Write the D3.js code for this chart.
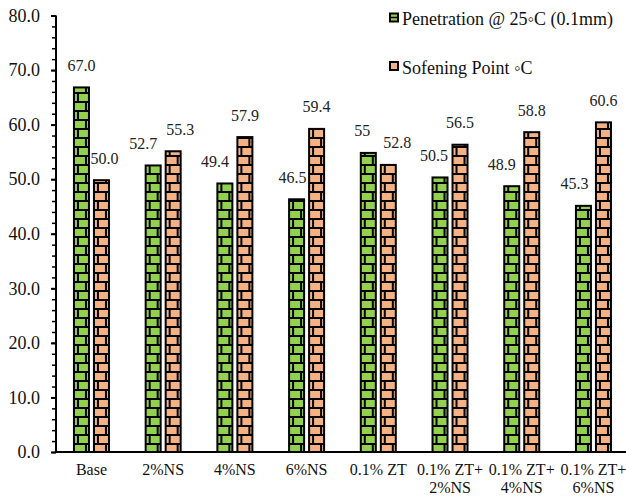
<!DOCTYPE html>
<html>
<head>
<meta charset="utf-8">
<script src="https://cdn.jsdelivr.net/npm/d3@7"></script>
<style>
  html, body { margin: 0; padding: 0; background: #fff; }
  svg { display: block; }
  svg text { font-family: "Liberation Serif", "Times New Roman", serif; }
</style>
</head>
<body>
<svg id="chart" width="626" height="499"></svg>
<script>
// Binder test results per blend
const categories = ["Base", "2%NS", "4%NS", "6%NS", "0.1% ZT", "0.1% ZT+ 2%NS", "0.1% ZT+ 4%NS", "0.1% ZT+ 6%NS"];
const penetration = [67.0, 52.7, 49.4, 46.5, 55, 50.5, 48.9, 45.3];
const softening = [50.0, 55.3, 57.9, 59.4, 52.8, 56.5, 58.8, 60.6];
const penetrationLabels = ["67.0", "52.7", "49.4", "46.5", "55", "50.5", "48.9", "45.3"];
const softeningLabels = ["50.0", "55.3", "57.9", "59.4", "52.8", "56.5", "58.8", "60.6"];
const seriesNames = ["Penetration @ 25\u25E6C (0.1mm)", "Sofening Point \u25E6C"];
const yTicks = [0, 10, 20, 30, 40, 50, 60, 70, 80];

// Hand-placed value labels: horizontal nudges (px) per bar
const penLabelNudge = [0, -10, -10, -4, -6, -6, -10, -9];
const softLabelNudge = [3, 7, 0, 0, 9, 0, 0, 0];

const colors = { pen: "#92D050", soft: "#F4B183" };
const FONT = "'Liberation Serif', 'Times New Roman', serif";

const svg = d3.select("#chart");
const x0 = 56, y0 = 452;

const x = d3.scaleBand().domain(categories).range([55.6, 629.3])
  .paddingInner(0.484).paddingOuter(0.242);
const xs = d3.scaleBand().domain(["pen", "soft"]).range([0, x.bandwidth()]).paddingInner(0.15);
const y = d3.scaleLinear().domain([0, 80]).range([y0, 15.5]);

// Brick fill patterns
const defs = svg.append("defs");
function brick(id, fill) {
  const p = defs.append("pattern").attr("id", id)
    .attr("patternUnits", "userSpaceOnUse")
    .attr("width", 18).attr("height", 18)
    .attr("y", y0 % 18);
  p.append("rect").attr("width", 18).attr("height", 18).attr("fill", fill);
  p.append("rect").attr("x", 0).attr("y", 0).attr("width", 18).attr("height", 2).attr("fill", "#000");
  p.append("rect").attr("x", 0).attr("y", 9).attr("width", 18).attr("height", 2).attr("fill", "#000");
  p.append("rect").attr("x", 4).attr("y", 0).attr("width", 2).attr("height", 9).attr("fill", "#000");
  p.append("rect").attr("x", 12).attr("y", 9).attr("width", 2).attr("height", 9).attr("fill", "#000");
}
brick("brick-pen", colors.pen);
brick("brick-soft", colors.soft);

// Bars
const series = [
  { key: "pen", values: penetration, labels: penetrationLabels, nudge: penLabelNudge },
  { key: "soft", values: softening, labels: softeningLabels, nudge: softLabelNudge }
];

series.forEach(s => {
  const g = svg.append("g");
  categories.forEach((c, i) => {
    const bx = x(c) + xs(s.key);
    const top = y(s.values[i]);
    const bar = g.append("g").attr("transform", `translate(${bx},0)`);
    bar.append("rect")
      .attr("x", 1).attr("y", top + 1)
      .attr("width", xs.bandwidth() - 2)
      .attr("height", y0 - top - 1)
      .attr("fill", `url(#brick-${s.key})`)
      .attr("stroke", "#000").attr("stroke-width", 2);
  });
  g.selectAll("text.val").data(s.values).join("text")
    .attr("class", "val")
    .attr("x", (d, i) => x(categories[i]) + xs(s.key) + xs.bandwidth() / 2 + s.nudge[i])
    .attr("y", d => y(d) - 15.5)
    .attr("text-anchor", "middle")
    .attr("font-family", FONT)
    .attr("font-size", 16)
    .attr("fill", "#222")
    .text((d, i) => s.labels[i]);
});

// Y axis with minor ticks
const yAxis = svg.append("g").attr("transform", `translate(${x0},0)`);
yAxis.call(d3.axisLeft(y).tickValues(d3.range(0, 81, 2)).tickSize(4).tickFormat(""))
  .call(g => g.select(".domain").remove())
  .call(g => g.selectAll("line").attr("stroke", "#000").attr("stroke-width", 1.5));
const yMajor = svg.append("g").attr("transform", `translate(${x0},0)`);
yMajor.call(d3.axisLeft(y).tickValues(yTicks).tickSize(5).tickPadding(11).tickFormat(d3.format(".1f")))
  .attr("font-family", FONT)
  .call(g => g.select(".domain").remove())
  .call(g => g.selectAll("line").attr("stroke", "#000").attr("stroke-width", 2))
  .call(g => g.selectAll("text").attr("font-size", 18).attr("fill", "#111").attr("font-family", FONT));
svg.append("line").attr("x1", x0).attr("x2", x0).attr("y1", y(80)).attr("y2", y0 + 1)
  .attr("stroke", "#000").attr("stroke-width", 2);

// X axis
svg.append("line").attr("x1", x0).attr("x2", 626).attr("y1", y0).attr("y2", y0)
  .attr("stroke", "#000").attr("stroke-width", 2);
const xl = svg.append("g");
categories.forEach(c => {
  const lines = c.split(/(?<=\+)\s/);
  const t = xl.append("text")
    .attr("x", x(c) + x.bandwidth() / 2)
    .attr("y", 475)
    .attr("text-anchor", "middle")
    .attr("font-family", FONT)
    .attr("font-size", 16)
    .attr("fill", "#111");
  lines.forEach((ln, k) => {
    t.append("tspan").attr("x", x(c) + x.bandwidth() / 2).attr("dy", k === 0 ? 0 : 18).text(ln);
  });
});

// Legend
const legend = svg.append("g");
[{ key: "pen", name: seriesNames[0], cy: 18 }, { key: "soft", name: seriesNames[1], cy: 66.5 }].forEach(l => {
  legend.append("rect").attr("x", 390).attr("y", l.cy - 4.5).attr("width", 8).attr("height", 8)
    .attr("fill", colors[l.key]).attr("stroke", "#000").attr("stroke-width", 2);
  if (l.key === "pen") {
    legend.append("line").attr("x1", 390).attr("x2", 398).attr("y1", l.cy - 0.5).attr("y2", l.cy - 0.5)
      .attr("stroke", "#000").attr("stroke-width", 1.5);
  }
  legend.append("text").attr("x", 402).attr("y", l.cy + 7)
    .attr("font-family", FONT)
    .attr("font-size", 18).attr("fill", "#111").text(l.name);
});
</script>
</body>
</html>
